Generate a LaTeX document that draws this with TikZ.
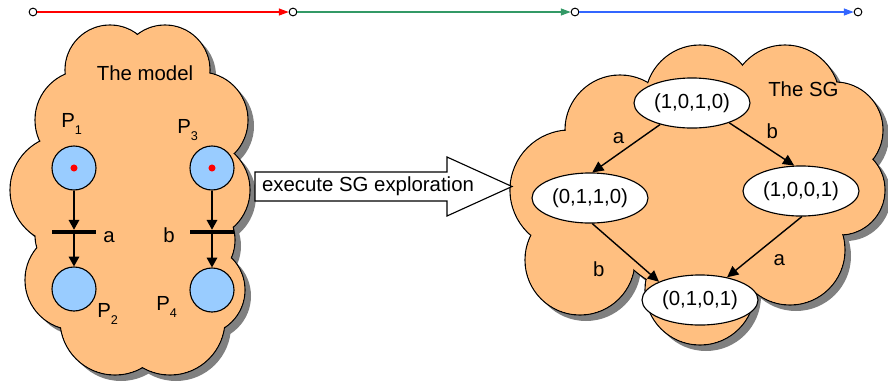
\documentclass[tikz,border=0pt]{standalone}
\usepackage{fontspec}
\setmainfont{Liberation Sans}
\usetikzlibrary{shapes.geometric, arrows.meta, positioning}

\definecolor{cloudorange}{RGB}{255,191,128}
\definecolor{placeblue}{RGB}{153,204,255}
\definecolor{shadowgray}{RGB}{128,128,128}
\definecolor{linered}{RGB}{255,0,0}
\definecolor{linegreen}{RGB}{51,153,102}
\definecolor{lineblue}{RGB}{51,102,255}

\newcommand{\psub}[1]{\raisebox{-5pt}{\fontsize{9}{11}\selectfont #1}}

\begin{document}
\begin{tikzpicture}[x=0.025cm, y=-0.025cm, font=\fontsize{14.5}{17}\selectfont]
\tikzstyle{place} = [circle, draw, fill=placeblue, minimum size=31.3pt, inner sep=0pt, line width=0.8pt]
\tikzstyle{token} = [circle, fill=red, minimum size=5pt, inner sep=0pt]
\tikzstyle{transition} = [rectangle, fill=black, minimum width=31pt, minimum height=2.8pt, inner sep=0pt]
\tikzstyle{marking} = [ellipse, draw, fill=white, minimum width=82.5pt, minimum height=35.6pt, inner sep=0pt, line width=0.8pt]
\tikzstyle{milestone} = [circle, draw, fill=white, minimum size=5.5pt, inner sep=0pt, line width=0.7pt]
\tikzstyle{flow} = [-{Triangle[length=7pt, width=7.5pt]}, line width=1.1pt]
\tikzstyle{sgflow} = [-{Triangle[length=8pt, width=7.5pt]}, line width=1pt]
\tikzstyle{timeflow} = [-{Triangle[length=7pt, width=5pt]}, line width=0.8pt]
\tikzstyle{lbl} = [inner sep=1pt]

\useasboundingbox (0,0) rectangle (888,390);

% timeline
\node (m0) [milestone] at (33,12) {};
\node (m1) [milestone] at (293,12) {};
\node (m2) [milestone] at (575,12) {};
\node (m3) [milestone] at (858,12) {};
\draw[timeflow, linered] (m0) -- (m1);
\draw[timeflow, linegreen] (m1) -- (m2);
\draw[timeflow, lineblue] (m2) -- (m3);

% clouds: shadow, outline, fill
\def\leftcloud{110/70/45, 165/70/45, 85/120/50, 200/120/48, 65/190/55, 200/190/50, 75/280/50, 200/290/45, 115/320/55, 170/320/55, 135/200/80, 140/130/60, 190/240/45, 80/235/45}
\def\rightcloud{620/130/55, 700/100/55, 785/100/55, 835/130/48, 840/190/45, 570/190/60, 580/260/55, 700/290/55, 790/250/55, 700/195/100, 760/170/60}
\foreach \cx/\cy/\r in \leftcloud {\fill[shadowgray] (\cx+6,\cy+6) circle [radius=\r];}
\foreach \cx/\cy/\r in \rightcloud {\fill[shadowgray] (\cx+6,\cy+6) circle [radius=\r];}
\foreach \cx/\cy/\r in \leftcloud {\draw[line width=0.8pt, fill=cloudorange] (\cx,\cy) circle [radius=\r];}
\foreach \cx/\cy/\r in \rightcloud {\draw[line width=0.8pt, fill=cloudorange] (\cx,\cy) circle [radius=\r];}
\foreach \cx/\cy/\r in \leftcloud {\fill[cloudorange] (\cx,\cy) circle [radius=\r-0.8];}
\foreach \cx/\cy/\r in \rightcloud {\fill[cloudorange] (\cx,\cy) circle [radius=\r-0.8];}

% the model
\node (model) at (145,73) {The model};
\node (p1) [place] at (74,168) {};
\node (tok1) [token] at (p1) {};
\node (ta) [transition] at (74,232) {};
\node (p2) [place] at (74,289) {};
\node (p3) [place] at (212,168) {};
\node (tok3) [token] at (p3) {};
\node (tb) [transition] at (212,232) {};
\node (p4) [place] at (212,290) {};
\draw[flow] (p1) -- (ta);
\draw[flow] (ta) -- (p2);
\draw[flow] (p3) -- (tb);
\draw[flow] (tb) -- (p4);
\node (lp1) [anchor=base west, inner sep=0pt] at (61,127) {P\psub{1}};
\node (lp3) [anchor=base west, inner sep=0pt] at (177,133) {P\psub{3}};
\node (lp2) [anchor=base west, inner sep=0pt] at (97,317) {P\psub{2}};
\node (lp4) [anchor=base west, inner sep=0pt] at (156,310) {P\psub{4}};
\node (la) [anchor=base west, inner sep=0pt] at (103,242) {a};
\node (lb) [anchor=base west, inner sep=0pt] at (163,242) {b};

% exploration arrow
\draw[line width=0.8pt, fill=white] (255,172) -- (447,172) -- (447,157) -- (512,186.5)
  -- (447,216) -- (447,201) -- (255,201) -- cycle;
\node (explore) at (368,186) {execute SG exploration};

% the SG
\node (sg) [anchor=base west, inner sep=0pt] at (768,96) {The SG};
\node (s1010) [marking] at (692,103) {(1,0,1,0)};
\node (s0110) [marking] at (590,198) {(0,1,1,0)};
\node (s1001) [marking] at (801,191) {(1,0,0,1)};
\node (s0101) [marking] at (700,300) {(0,1,0,1)};
\draw[sgflow] (s1010.-146) -- node[lbl, above left=2pt and 0pt] {a} (s0110.85);
\draw[sgflow] (s1010.-28) -- node[lbl, above right=2.5pt and 2pt] {b} (s1001.105);
\draw[sgflow] (s0110.-85) -- node[lbl, below left=4.6pt and 13.5pt] {b} (s0101.156);
\draw[sgflow] (s1001.-88) -- node[lbl, below right=3.8pt and 5pt] {a} (s0101.40);

\end{tikzpicture}
\end{document}
